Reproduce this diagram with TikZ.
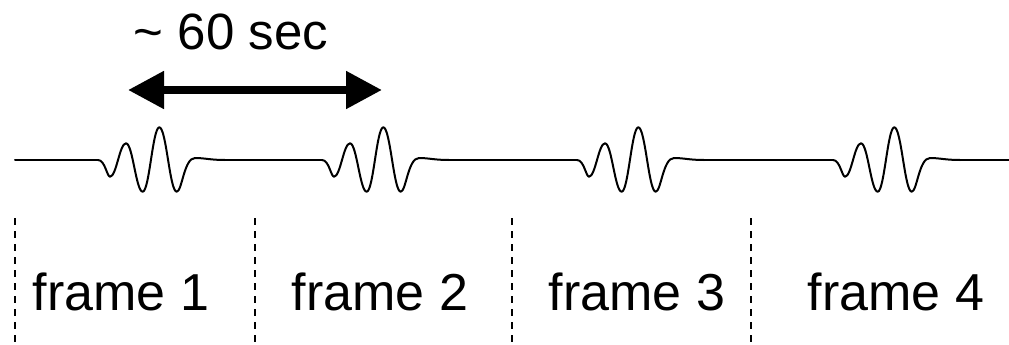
\documentclass[tikz,border=0pt]{standalone}
\usepackage{fontspec}
\setmainfont{Liberation Sans}
\usetikzlibrary{arrows.meta}
\tikzset{
  wave/.style={line width=2pt, line cap=round, line join=round},
  divider/.style={line width=1.2pt, dash pattern=on 7pt off 6pt},
  framelabel/.style={anchor=base, inner sep=0pt, font=\fontsize{52}{60}\selectfont},
  toplabel/.style={anchor=base, inner sep=0pt, font=\fontsize{51}{60}\selectfont},
  span/.style={line width=8pt, {Triangle[length=36pt,width=36pt]}-{Triangle[length=36pt,width=36pt]}}
}
\begin{document}
\begin{tikzpicture}[x=1pt,y=-1pt]
\useasboundingbox (0,0) rectangle (1009,345);
% waveform baseline pieces
\draw[wave] (15,160) -- (98,160);
\draw[wave] (225,160) -- (322,160);
\draw[wave] (449,160) -- (577,160);
\draw[wave] (704,160) -- (833,160);
\draw[wave] (960,160) -- (1009,160);
% wavelets
\foreach \x in {110,334,589,845}{
  \begin{scope}[shift={(\x,160)}]
    \draw[wave] (-12,0) .. controls (-5,0) and (-3,16.7) .. (0,16.7)
      .. controls (6.4,16.7) and (9.6,-16.7) .. (16,-16.7)
      .. controls (22.7,-16.7) and (26,31.7) .. (32.7,31.7)
      .. controls (39.3,31.7) and (42.7,-32.7) .. (49.3,-32.7)
      .. controls (56.3,-32.7) and (59.7,31.7) .. (66.7,31.7)
      .. controls (72,31.7) and (74,-2) .. (85,-2)
      .. controls (95,-2) and (100,0) .. (115,0);
  \end{scope}
}
% dividers
\foreach \x [count=\i] in {15,255,512,751}{
  \coordinate (dt\i) at (\x,218);
  \coordinate (db\i) at (\x,345);
  \draw[divider] (dt\i) -- (db\i);
}
% labels
\node[framelabel] (f1) at (121,310) {frame 1};
\node[framelabel] (f2) at (380,310) {frame 2};
\node[framelabel] (f3) at (637,310) {frame 3};
\node[framelabel] (f4) at (896,310) {frame 4};
\node[toplabel] (t) at (231,49) {\textasciitilde{} 60 sec};
% span arrow
\coordinate (al) at (128,90);
\coordinate (ar) at (382,90);
\draw[span] (al) -- (ar);
\end{tikzpicture}
\end{document}
